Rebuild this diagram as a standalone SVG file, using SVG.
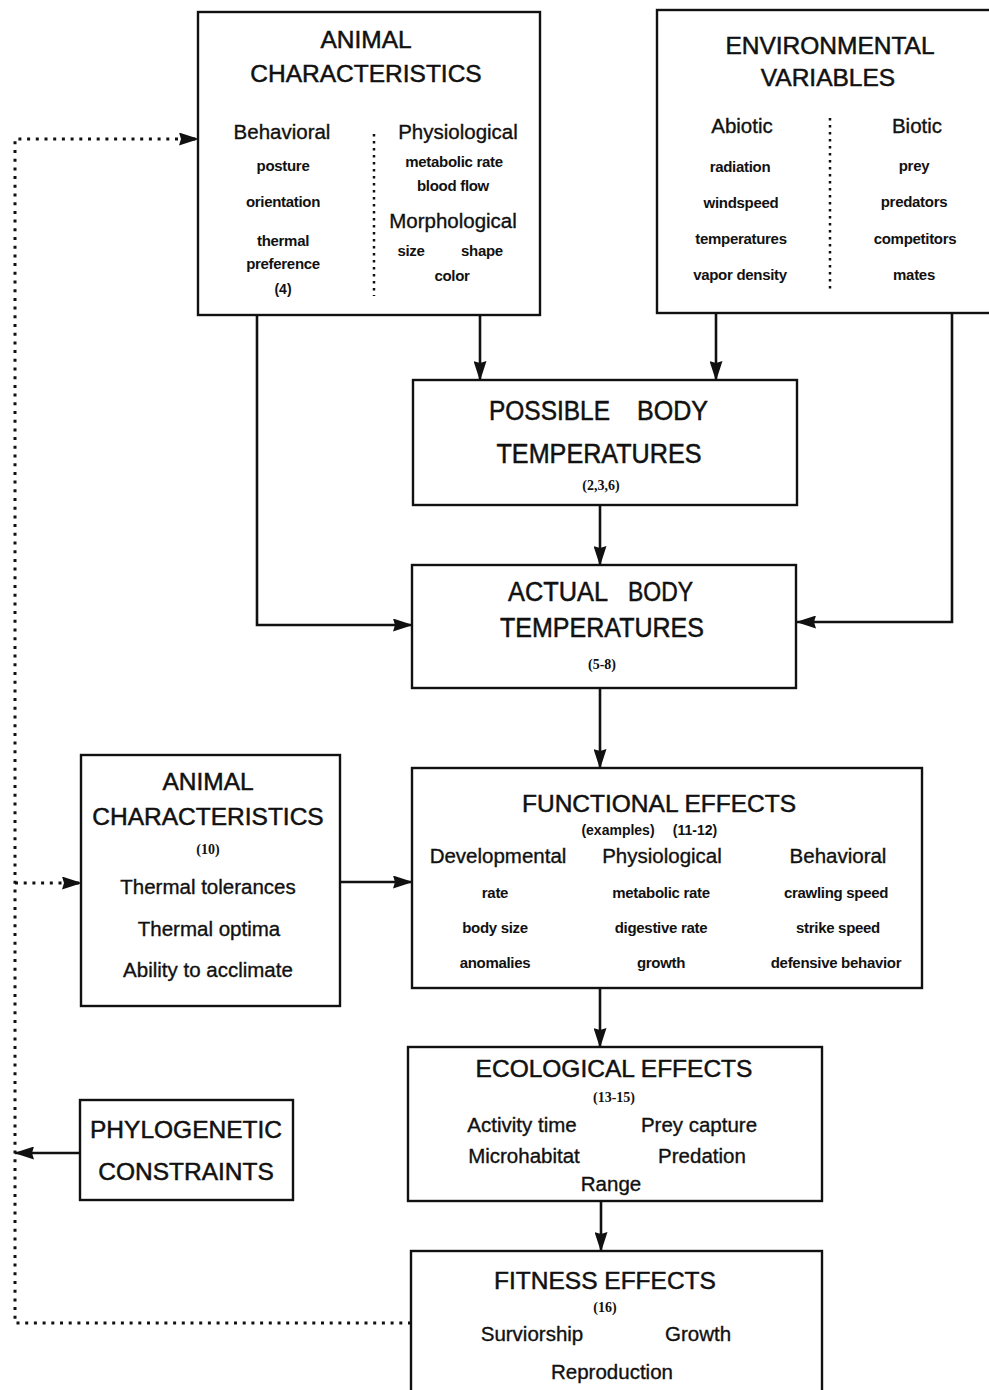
<svg xmlns="http://www.w3.org/2000/svg" width="989" height="1390" viewBox="0 0 989 1390">
<style>
text{font-family:"Liberation Sans",Arial,sans-serif;fill:#111;text-anchor:middle}
.t{font-size:24.5px;stroke:#111;stroke-width:0.5}
.h{font-size:20.5px;stroke:#111;stroke-width:0.35}
.s{font-size:15px;font-weight:bold;letter-spacing:-0.3px}
.n{font-family:"Liberation Serif","Times New Roman",serif;font-size:14px;font-weight:bold}
.e{font-size:14px;font-weight:bold}
.c{font-size:27px}
.box{fill:#fff;stroke:#111;stroke-width:2.4}
.ln{fill:none;stroke:#111;stroke-width:2.6}
.dot{fill:none;stroke:#111;stroke-width:3;stroke-dasharray:3 5.7}
.sep{fill:none;stroke:#111;stroke-width:2.5;stroke-dasharray:2.5 4.5}
</style>
<defs>
<marker id="ah" viewBox="0 0 20 13" refX="19" refY="6.5" markerWidth="20" markerHeight="13" markerUnits="userSpaceOnUse" orient="auto">
<path d="M0,0 L20,6.5 L0,13 L2,6.5 z" fill="#111"/>
</marker>
</defs>
<rect width="989" height="1390" fill="#fff"/>

<g id="connectors">
<path class="ln" d="M480,315 V380" marker-end="url(#ah)"/>
<path class="ln" d="M716,313 V380" marker-end="url(#ah)"/>
<path class="ln" d="M257,315 V625 H412" marker-end="url(#ah)"/>
<path class="ln" d="M952,313 V622 H797" marker-end="url(#ah)"/>
<path class="ln" d="M600,505 V565" marker-end="url(#ah)"/>
<path class="ln" d="M600,688 V768" marker-end="url(#ah)"/>
<path class="ln" d="M340,882 H412" marker-end="url(#ah)"/>
<path class="ln" d="M600,988 V1047" marker-end="url(#ah)"/>
<path class="ln" d="M601,1201 V1251" marker-end="url(#ah)"/>
<path class="ln" d="M80,1153 H15" marker-end="url(#ah)"/>
<path class="dot" d="M411,1323 H15 V139 H198" marker-end="url(#ah)"/>
<path class="dot" d="M15,883 H81" marker-end="url(#ah)"/>
</g>

<g id="animal-characteristics-top">
<rect class="box" x="198" y="12" width="342" height="303"/>
<text class="t" x="366" y="48">ANIMAL</text>
<text class="t" x="366" y="82">CHARACTERISTICS</text>
<path class="sep" d="M374,134 V296"/>
<text class="h" x="282" y="139">Behavioral</text>
<text class="s" x="283" y="171">posture</text>
<text class="s" x="283" y="207">orientation</text>
<text class="s" x="283" y="246">thermal</text>
<text class="s" x="283" y="269">preference</text>
<text class="e" x="283" y="294">(4)</text>
<text class="h" x="458" y="139">Physiological</text>
<text class="s" x="454" y="167">metabolic rate</text>
<text class="s" x="453" y="191">blood flow</text>
<text class="h" x="453" y="228">Morphological</text>
<text class="s" x="411" y="256">size</text>
<text class="s" x="482" y="256">shape</text>
<text class="s" x="452" y="281">color</text>
</g>

<g id="environmental-variables">
<rect class="box" x="657" y="10" width="336" height="303"/>
<text class="t" x="830" y="54">ENVIRONMENTAL</text>
<text class="t" x="828" y="86">VARIABLES</text>
<path class="sep" d="M830,118 V289"/>
<text class="h" x="742" y="133">Abiotic</text>
<text class="s" x="740" y="172">radiation</text>
<text class="s" x="741" y="208">windspeed</text>
<text class="s" x="741" y="244">temperatures</text>
<text class="s" x="740" y="280">vapor density</text>
<text class="h" x="917" y="133">Biotic</text>
<text class="s" x="914" y="171">prey</text>
<text class="s" x="914" y="207">predators</text>
<text class="s" x="915" y="244">competitors</text>
<text class="s" x="914" y="280">mates</text>
</g>

<g id="possible-body-temperatures">
<rect class="box" x="413" y="380" width="384" height="125"/>
<text class="t c" x="549.5" y="420" textLength="121" lengthAdjust="spacingAndGlyphs">POSSIBLE</text>
<text class="t c" x="672.5" y="420" textLength="71" lengthAdjust="spacingAndGlyphs">BODY</text>
<text class="t c" x="599" y="463" textLength="205" lengthAdjust="spacingAndGlyphs">TEMPERATURES</text>
<text class="n" x="601" y="490">(2,3,6)</text>
</g>

<g id="actual-body-temperatures">
<rect class="box" x="412" y="565" width="384" height="123"/>
<text class="t c" x="558" y="601" textLength="100" lengthAdjust="spacingAndGlyphs">ACTUAL</text>
<text class="t c" x="660.5" y="601" textLength="65" lengthAdjust="spacingAndGlyphs">BODY</text>
<text class="t c" x="602" y="637" textLength="204" lengthAdjust="spacingAndGlyphs">TEMPERATURES</text>
<text class="n" x="602" y="669">(5-8)</text>
</g>

<g id="functional-effects">
<rect class="box" x="412" y="768" width="510" height="220"/>
<text class="t" x="659" y="812">FUNCTIONAL EFFECTS</text>
<text class="e" x="618" y="835">(examples)</text>
<text class="e" x="695" y="835">(11-12)</text>
<text class="h" x="498" y="863">Developmental</text>
<text class="h" x="662" y="863">Physiological</text>
<text class="h" x="838" y="863">Behavioral</text>
<text class="s" x="495" y="898">rate</text>
<text class="s" x="661" y="898">metabolic rate</text>
<text class="s" x="836" y="898">crawling speed</text>
<text class="s" x="495" y="933">body size</text>
<text class="s" x="661" y="933">digestive rate</text>
<text class="s" x="838" y="933">strike speed</text>
<text class="s" x="495" y="968">anomalies</text>
<text class="s" x="661" y="968">growth</text>
<text class="s" x="836" y="968">defensive behavior</text>
</g>

<g id="animal-characteristics-lower">
<rect class="box" x="81" y="755" width="259" height="251"/>
<text class="t" x="208" y="790">ANIMAL</text>
<text class="t" x="208" y="825">CHARACTERISTICS</text>
<text class="n" x="208" y="854">(10)</text>
<text class="h" x="208" y="894">Thermal tolerances</text>
<text class="h" x="209" y="936">Thermal optima</text>
<text class="h" x="208" y="977">Ability to acclimate</text>
</g>

<g id="phylogenetic-constraints">
<rect class="box" x="80" y="1100" width="213" height="100"/>
<text class="t" x="186" y="1138">PHYLOGENETIC</text>
<text class="t" x="186" y="1180">CONSTRAINTS</text>
</g>

<g id="ecological-effects">
<rect class="box" x="408" y="1047" width="414" height="154"/>
<text class="t" x="614" y="1077">ECOLOGICAL EFFECTS</text>
<text class="n" x="614" y="1102">(13-15)</text>
<text class="h" x="522" y="1132">Activity time</text>
<text class="h" x="699" y="1132">Prey capture</text>
<text class="h" x="524" y="1163">Microhabitat</text>
<text class="h" x="702" y="1163">Predation</text>
<text class="h" x="611" y="1191">Range</text>
</g>

<g id="fitness-effects">
<rect class="box" x="411" y="1251" width="411" height="145"/>
<text class="t" x="605" y="1289">FITNESS EFFECTS</text>
<text class="n" x="605" y="1312">(16)</text>
<text class="h" x="532" y="1341">Surviorship</text>
<text class="h" x="698" y="1341">Growth</text>
<text class="h" x="612" y="1379">Reproduction</text>
</g>
</svg>
